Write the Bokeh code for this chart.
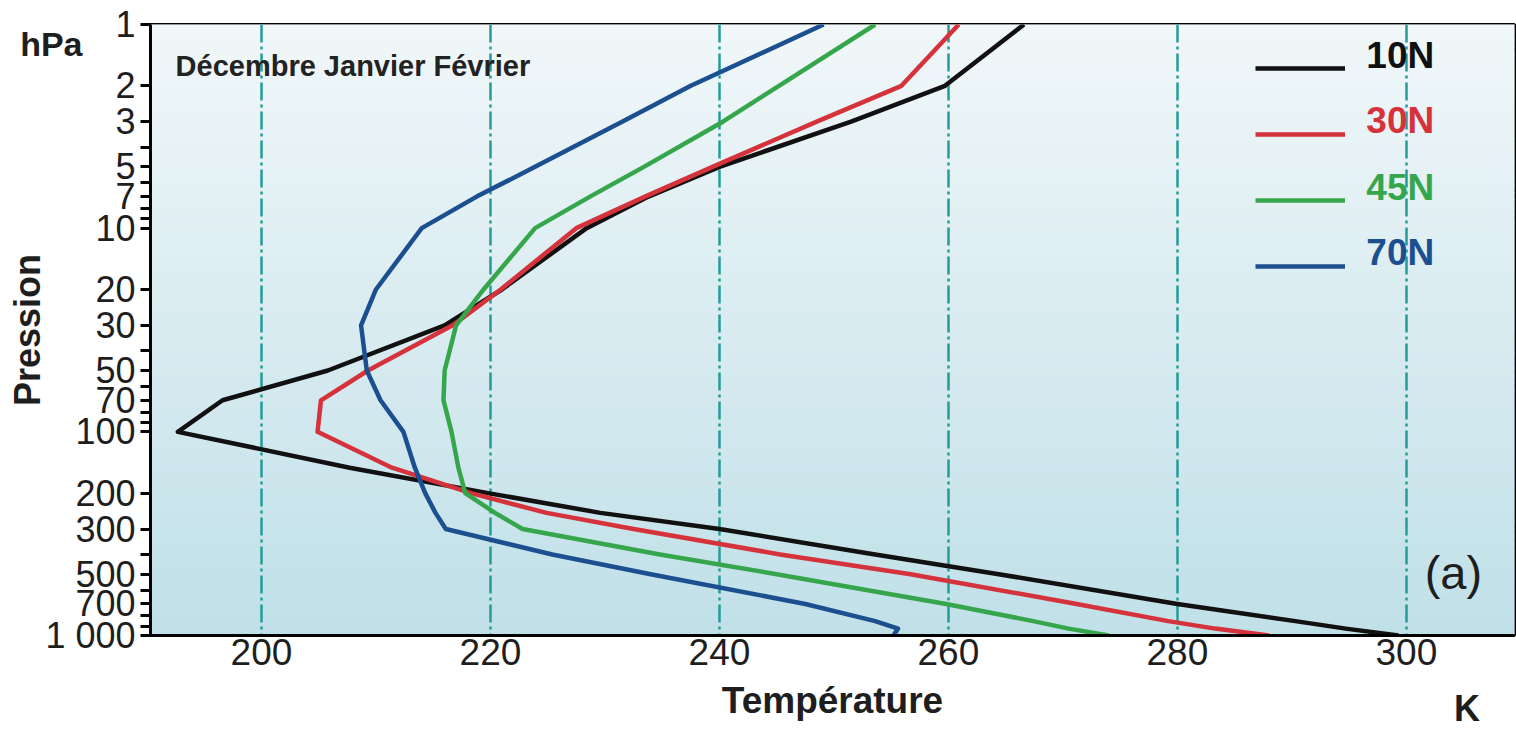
import numpy as np
from bokeh.plotting import figure
from bokeh.models import (Range1d, FixedTicker, Legend, LegendItem, Label,
                          LinearAxis, LogAxis)
from bokeh.embed import file_html
from bokeh.resources import INLINE

# ---------------- data ----------------
pressure_hpa = [1, 2, 3, 5, 7, 10, 20, 30, 50, 70, 100, 150, 200, 250, 300,
                400, 500, 700, 850, 925, 1000]
t_10n = [266.6, 259.7, 251.5, 240.0, 233.8, 228.4, 221.0, 216.0, 205.8, 196.6, 192.7,
         207.7, 219.8, 229.6, 240.0, 253.6, 264.4, 280.0, 290.3, 294.7, 299.3]
t_30n = [260.9, 255.9, 248.5, 239.4, 233.5, 227.5, 220.9, 216.7, 209.3, 205.2, 204.9,
         211.4, 218.3, 224.9, 232.5, 245.3, 256.7, 271.2, 279.2, 283.3, 288.0]
t_45n = [253.6, 245.2, 240.3, 233.4, 228.7, 223.9, 219.4, 217.0, 216.0, 215.9, 216.6,
         217.2, 217.8, 220.4, 222.8, 234.8, 245.0, 259.8, 267.4, 270.5, 274.0]
t_70n = [249.1, 237.5, 231.5, 223.9, 218.8, 214.0, 210.0, 208.7, 209.2, 210.4, 212.4,
         213.4, 214.3, 215.2, 216.1, 225.4, 234.0, 247.5, 253.6, 255.6, 255.2]
series_names = ["10N", "30N", "45N", "70N"]
series_values = [t_10n, t_30n, t_45n, t_70n]
series_colors = ["#111111", "#d5323b", "#36a64d", "#1b4f8f"]

x_ticks = [200, 220, 240, 260, 280, 300]
y_ticks = [1, 2, 3, 4, 5, 6, 7, 8, 9,
           10, 20, 30, 40, 50, 60, 70, 80, 90,
           100, 200, 300, 400, 500, 600, 700, 800, 900, 1000]
y_labeled = {1: "1", 2: "2", 3: "3", 5: "5", 7: "7", 10: "10", 20: "20", 30: "30",
             50: "50", 70: "70", 100: "100", 200: "200", 300: "300", 500: "500",
             700: "700", 1000: "1 000"}
unit_x = {"K": 305.3}      # temperature unit, written under the axis end
unit_y = {"hPa": 1.25}     # pressure unit, written left of the axis top

X0, X1 = 190.31, 309.44
FONT = "Liberation Sans"
TXT = "#1e1e1e"

p = figure(width=1516, height=731, output_backend="svg", toolbar_location=None,
           x_range=Range1d(X0, X1), y_range=Range1d(1000, 1), y_axis_type="log",
           min_border_left=150, min_border_right=2, min_border_top=24,
           min_border_bottom=96)
p.outline_line_color = "black"
p.outline_line_width = 3
p.background_fill_color = "white"
p.border_fill_color = "white"

# background gradient (light at top, pale blue at bottom)
n = 80
edges = np.logspace(0, 3, n + 1)
top_rgb = np.array([241, 247, 249])
bot_rgb = np.array([192, 224, 232])
fr = (np.arange(n) + 0.5) / n
cols = ["#%02x%02x%02x" % tuple(int(round(c)) for c in (top_rgb + (bot_rgb - top_rgb) * f)) for f in fr]
p.quad(left=X0, right=X1, top=edges[:-1], bottom=edges[1:], fill_color=cols,
       line_color=cols, line_width=1, level="image")

# grid
p.ygrid.visible = False
p.xgrid.ticker = FixedTicker(ticks=x_ticks)
p.xgrid.grid_line_color = "#239c98"
p.xgrid.grid_line_width = 2.5
p.xgrid.grid_line_dash = "18 4 3 4"


def bare_axis(ax):
    ax.axis_line_color = None
    ax.major_tick_in = 0
    ax.major_tick_out = 0
    ax.minor_tick_in = 0
    ax.minor_tick_out = 0
    ax.major_label_text_font = FONT
    ax.major_label_text_font_style = "bold"
    ax.major_label_text_color = TXT
    ax.axis_label_text_font = FONT
    ax.axis_label_text_font_style = "bold"
    ax.axis_label_text_color = TXT


# x axis
xa = p.xaxis[0]
xa.ticker = FixedTicker(ticks=x_ticks)
xa.major_tick_in = 0
xa.major_tick_out = 0
xa.minor_tick_in = 0
xa.minor_tick_out = 0
xa.axis_line_width = 3
xa.axis_line_color = "black"
xa.major_label_text_font = FONT
xa.major_label_text_font_size = "37px"
xa.major_label_text_color = TXT
xa.major_label_standoff = 3
xa.axis_label = "Température"
xa.axis_label_text_font = FONT
xa.axis_label_text_font_style = "bold"
xa.axis_label_text_font_size = "37px"
xa.axis_label_text_color = TXT
xa.axis_label_standoff = 12

# unit "K" under the right end of the temperature axis
k_axis = LinearAxis(ticker=FixedTicker(ticks=list(unit_x.values()), minor_ticks=[]),
                    major_label_overrides={v: k for k, v in unit_x.items()},
                    major_label_standoff=-36, major_label_text_font_size="36px")
bare_axis(k_axis)
p.add_layout(k_axis, "below")

# y axis (ticks + labels)
ya = p.yaxis[0]
ya.ticker = FixedTicker(ticks=y_ticks, minor_ticks=[])
ya.major_label_overrides = {t: y_labeled.get(t, "") for t in y_ticks}
ya.major_tick_in = 0
ya.major_tick_out = 10
ya.major_tick_line_width = 3
ya.minor_tick_in = 0
ya.minor_tick_out = 0
ya.axis_line_width = 3
ya.axis_line_color = "black"
ya.major_label_text_font = FONT
ya.major_label_text_font_size = "36px"
ya.major_label_text_color = TXT
ya.major_label_standoff = 5
ya.axis_label = None

# unit "hPa" at the top of the pressure axis
hpa_axis = LogAxis(ticker=FixedTicker(ticks=list(unit_y.values()), minor_ticks=[]),
                   major_label_overrides={v: k for k, v in unit_y.items()},
                   major_label_standoff=-40, major_label_text_font_size="34px")
bare_axis(hpa_axis)
p.add_layout(hpa_axis, "left")

# "Pression" title of the pressure axis
pres_axis = LogAxis(ticker=FixedTicker(ticks=[], minor_ticks=[]),
                    axis_label="Pression", axis_label_standoff=-30,
                    axis_label_text_font_size="36px")
bare_axis(pres_axis)
p.add_layout(pres_axis, "left")

# curves
renderers = []
for name, vals, col in zip(series_names, series_values, series_colors):
    r = p.line(vals, pressure_hpa, line_color=col, line_width=4.5, line_join="round")
    renderers.append(r)

# legend swatches (names are written above each swatch, below)
legend = Legend(items=[LegendItem(label="", renderers=[r]) for r in renderers],
                location=(1105, 359), glyph_width=90, glyph_height=20,
                label_standoff=0, label_width=0, padding=0, margin=0, spacing=46,
                border_line_alpha=0, background_fill_alpha=0)
p.add_layout(legend)

leg_text_y = [1.42, 2.96, 6.31, 13.2]
for name, col, ty in zip(series_names, series_colors, leg_text_y):
    p.add_layout(Label(x=296.5, y=ty, text=name, text_font=FONT, text_font_style="bold",
                       text_font_size="37px", text_color=col, text_baseline="middle"))

# text annotations
p.add_layout(Label(x=192.5, y=1.59, text="Décembre Janvier Février", text_font=FONT,
                   text_font_style="bold", text_font_size="29px", text_color="#222222",
                   text_baseline="middle"))
p.add_layout(Label(x=304.1, y=490, text="(a)", text_font=FONT, text_font_size="47px",
                   text_color=TXT, text_align="center", text_baseline="middle"))

open("out.html", "w").write(file_html(p, INLINE))
